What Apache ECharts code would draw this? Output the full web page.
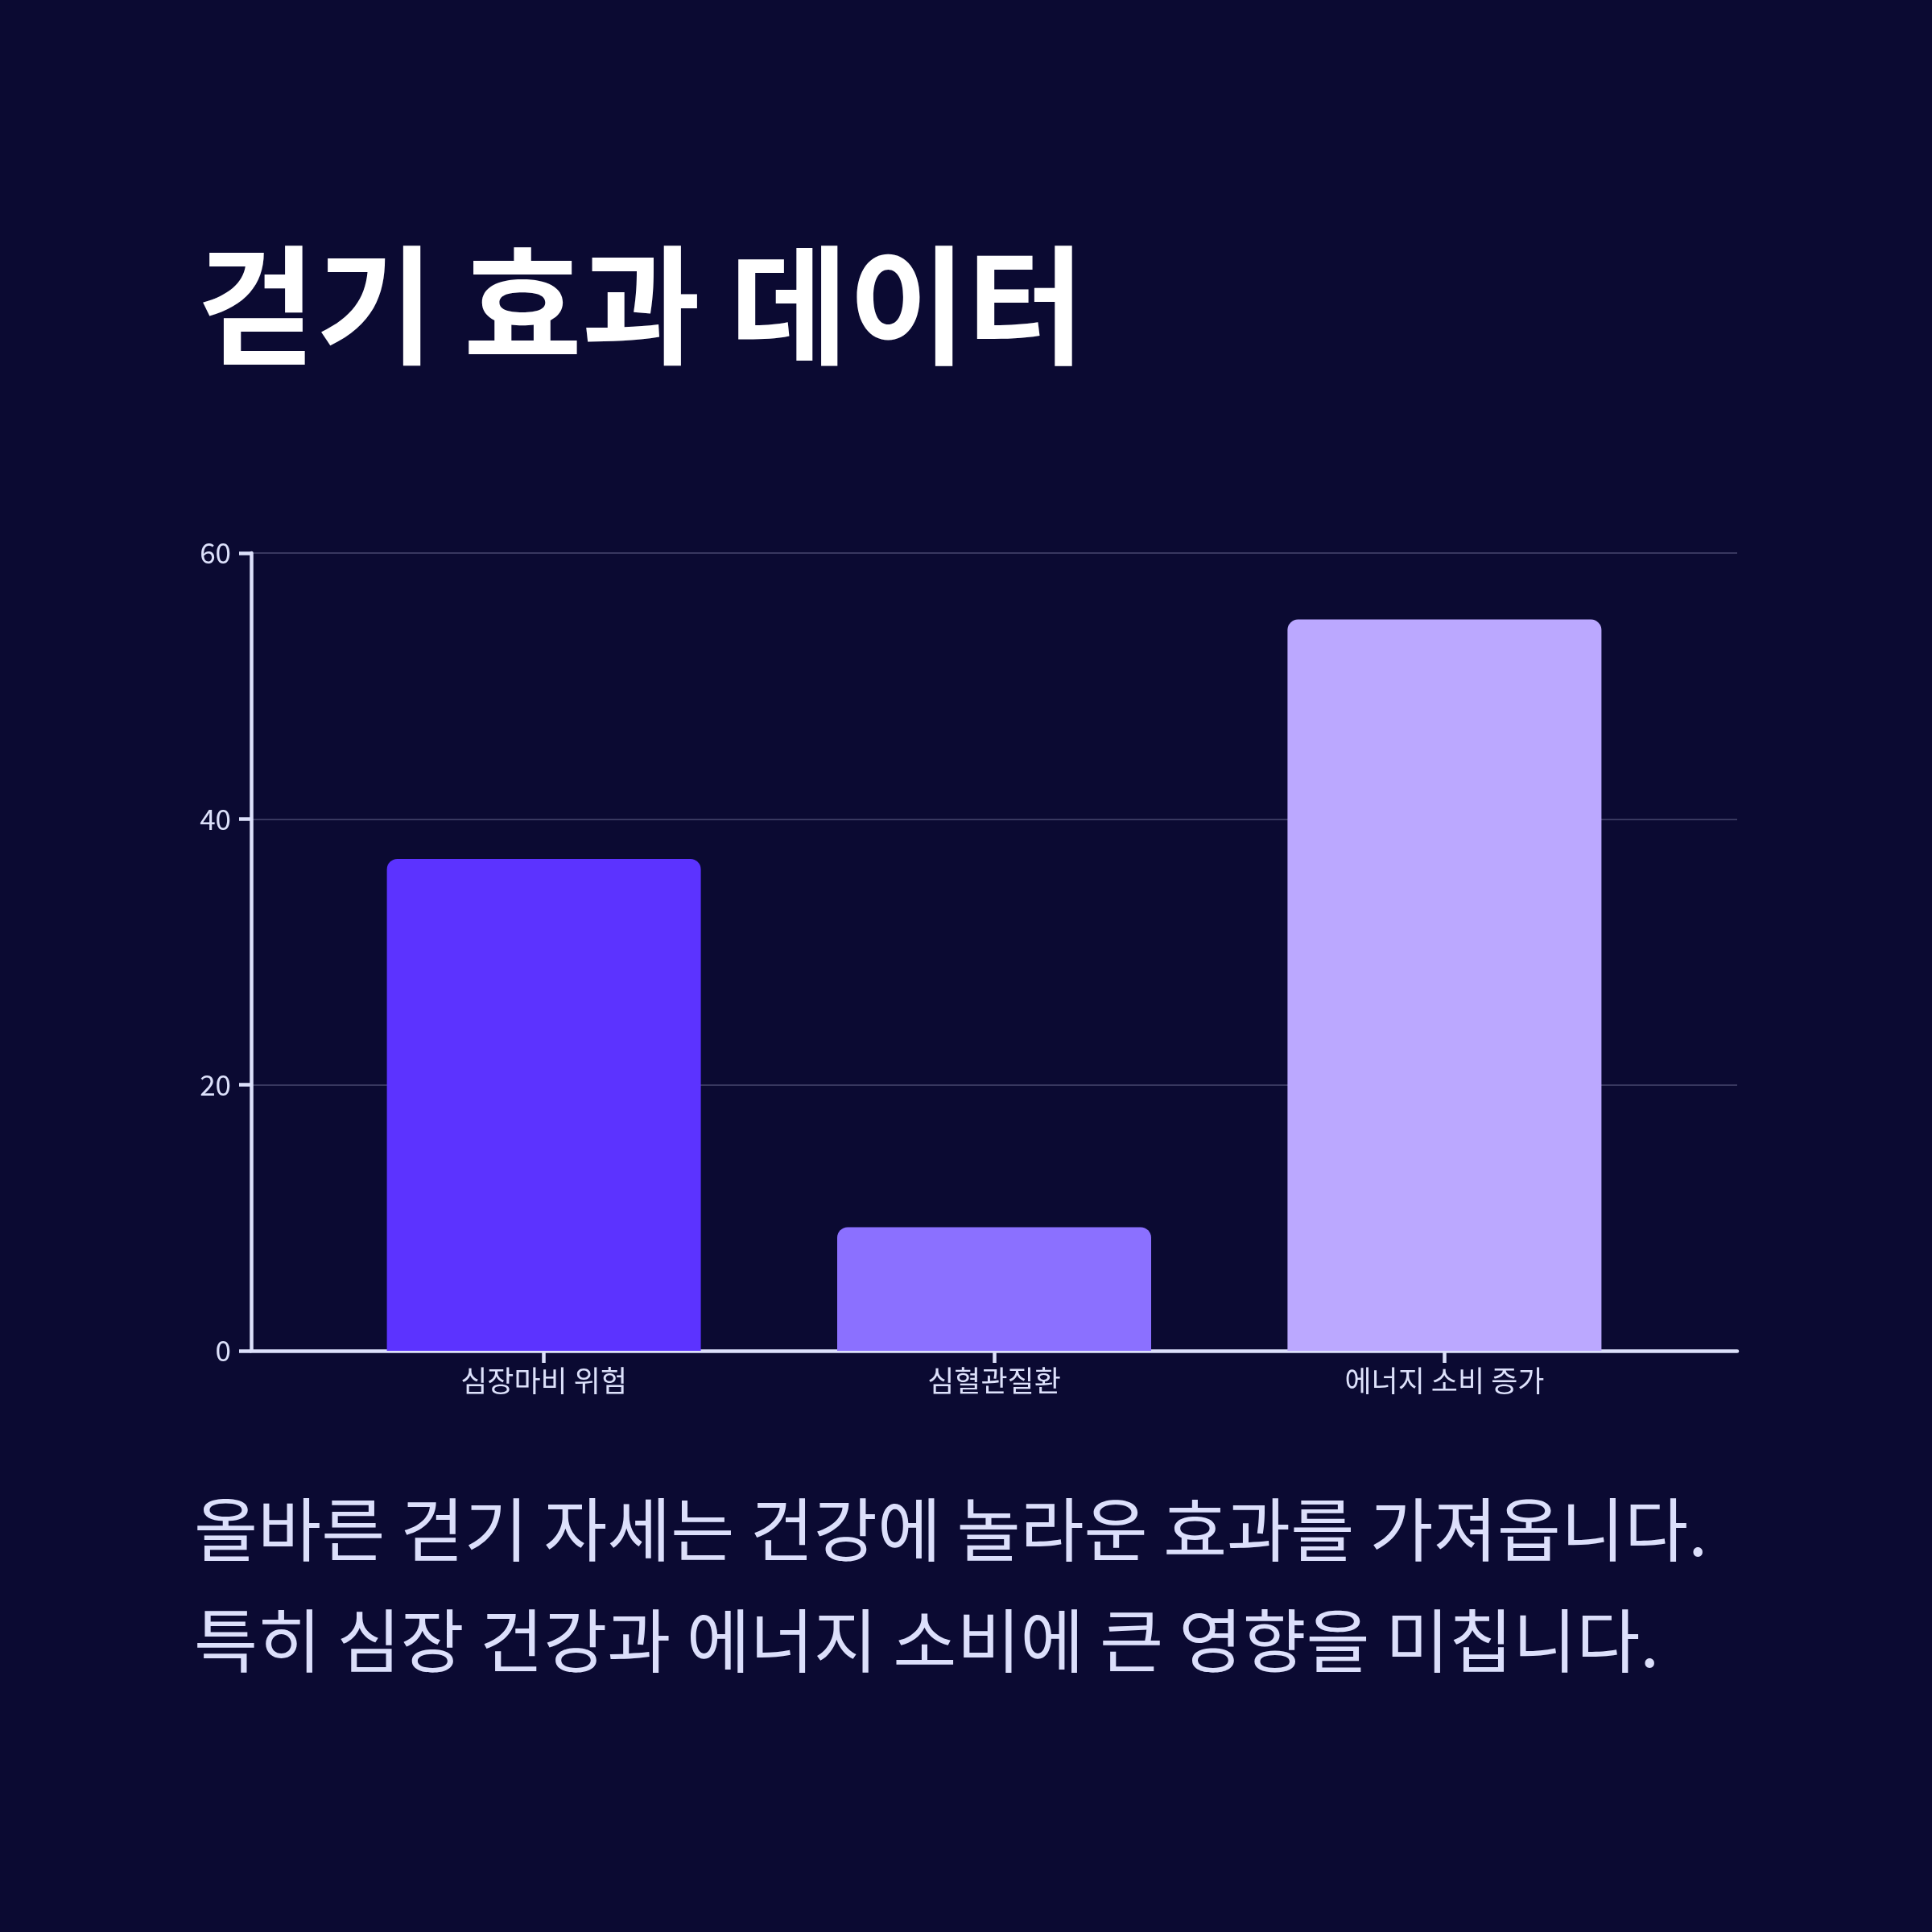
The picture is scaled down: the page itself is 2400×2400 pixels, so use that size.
<!DOCTYPE html>
<html>
<head>
<meta charset="utf-8">
<style>
html,body{margin:0;padding:0;background:#0b0a32;}
#chart{width:2400px;height:2400px;}
</style>
<script src="https://cdn.jsdelivr.net/npm/echarts@6/dist/echarts.min.js"></script>
</head>
<body>
<div id="chart"></div>
<script>
const titleText = '걷기 효과 데이터';
const bodyText = ['올바른 걷기 자세는 건강에 놀라운 효과를 가져옵니다.', '특히 심장 건강과 에너지 소비에 큰 영향을 미칩니다.'];
const categories = ['심장마비 위험', '심혈관질환', '에너지 소비 증가'];
const values = [37, 9.3, 55];
const barColors = ['#5c33ff', '#8b70ff', '#bba8ff'];
const yTicks = [0, 20, 40, 60];

const FONT = '"Noto Sans CJK KR", "Noto Sans", sans-serif';
const axisColor = '#dde1fb';

const chart = echarts.init(document.getElementById('chart'), null, {renderer: 'canvas'});
const catIdx = categories.map((c, i) => i);

chart.setOption({
  backgroundColor: '#0b0a32',
  animation: false,
  title: [
    {
      text: titleText,
      left: 240,
      top: 294,
      textStyle: {color: '#ffffff', fontSize: 160, fontWeight: 'bold', fontFamily: FONT}
    },
    {
      text: bodyText.join('\n'),
      left: 236,
      top: 1826,
      textStyle: {color: '#dcdffb', fontSize: 86, fontWeight: 'normal', fontFamily: FONT, lineHeight: 138}
    }
  ],
  grid: {left: 312, right: 242, top: 687, bottom: 722, containLabel: false},
  xAxis: {
    type: 'value',
    min: -0.65,
    max: categories.length - 1 + 0.65,
    splitLine: {show: false},
    axisLine: {show: true, onZero: false, lineStyle: {color: axisColor, width: 4.5}},
    axisTick: {show: true, length: 15, customValues: catIdx, lineStyle: {color: axisColor, width: 4.5}},
    axisLabel: {
      show: true,
      customValues: catIdx,
      margin: 19,
      color: axisColor,
      fontSize: 36,
      fontFamily: FONT,
      formatter: v => categories[Math.round(v)] || ''
    }
  },
  yAxis: {
    type: 'value',
    min: yTicks[0],
    max: yTicks[yTicks.length - 1],
    interval: 20,
    axisLine: {show: true, onZero: false, lineStyle: {color: axisColor, width: 4.5}},
    axisTick: {show: true, length: 15, lineStyle: {color: axisColor, width: 4.5}},
    axisLabel: {color: axisColor, fontSize: 35, fontFamily: FONT, margin: 25},
    splitLine: {show: true, lineStyle: {color: 'rgba(220,224,255,0.22)', width: 2}}
  },
  series: [{
    type: 'bar',
    barWidth: 390,
    data: values.map((v, i) => ({
      value: [i, v],
      itemStyle: {color: barColors[i], borderRadius: [13, 13, 0, 0]}
    }))
  }]
});
</script>
</body>
</html>
